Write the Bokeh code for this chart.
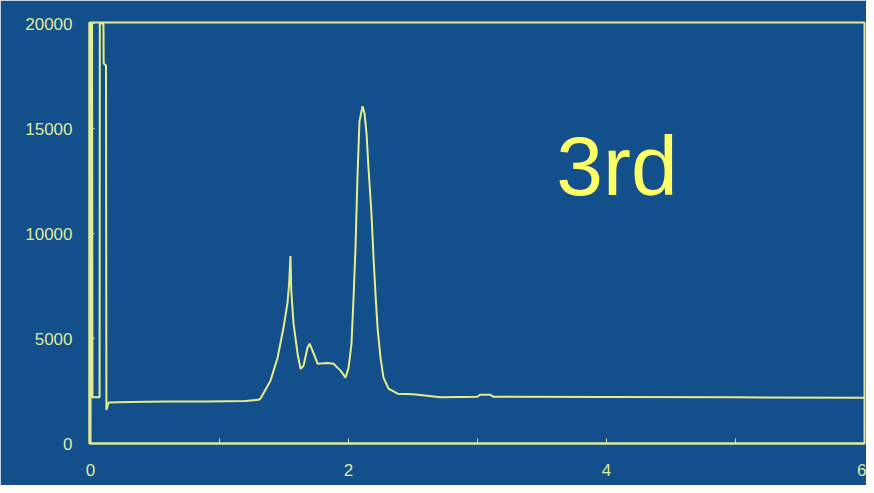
from bokeh.plotting import figure
from bokeh.models import Range1d, FixedTicker, Label
from bokeh.embed import file_html
from bokeh.resources import INLINE

# ---- data ----
time = [0.000, 0.003, 0.012, 0.015, 0.070, 0.072, 0.100, 0.102, 0.120, 0.123, 0.140,
        0.30, 0.60, 0.90, 1.20, 1.30,
        1.318, 1.395, 1.450, 1.496, 1.527, 1.540, 1.550, 1.556, 1.574, 1.605, 1.628,
        1.651, 1.682, 1.698, 1.721, 1.760, 1.837, 1.884, 1.938, 1.977, 2.000, 2.023,
        2.039, 2.054, 2.070, 2.085, 2.109, 2.124, 2.140, 2.155, 2.178, 2.194, 2.209,
        2.225, 2.248, 2.271, 2.310, 2.380, 2.504, 2.713, 3.00, 3.02, 3.10, 3.12,
        4.00, 5.00, 5.95, 6.02]
signal = [0, 20000, 20000, 2200, 2200, 20000, 20000, 18100, 18000, 1600, 1950,
          1980, 2000, 2000, 2020, 2080,
          2140, 2990, 4085, 5510, 6700, 7650, 8930, 7300, 5700, 4275, 3560,
          3700, 4560, 4750, 4420, 3800, 3830, 3800, 3470, 3135, 3600, 4750,
          6940, 9310, 12830, 15340, 16060, 15720, 14730, 13110, 10930, 8840, 7130,
          5510, 4085, 3135, 2610, 2375, 2340, 2200, 2230, 2320, 2320, 2230,
          2220, 2200, 2180, 2180]

x_ticks = [0, 1, 2, 3, 4, 5, 6]
x_tick_labels = {1: "", 3: "", 5: ""}
y_ticks = [0, 5000, 10000, 15000, 20000]
annotation = "3rd"

BG = "#134f8a"
PALE = "#dfe9a0"
TRACE = "#e6ee8a"

p = figure(width=866, height=485, output_backend="svg", toolbar_location=None,
           x_range=Range1d(-0.008, 6.0), y_range=Range1d(0, 20050),
           min_border_left=89, min_border_right=2, min_border_top=22, min_border_bottom=42)

p.background_fill_color = BG
p.border_fill_color = BG
p.outline_line_color = PALE
p.outline_line_width = 2
p.grid.visible = False

for ax in (p.xaxis[0], p.yaxis[0]):
    ax.axis_line_color = PALE
    ax.axis_line_width = 2
    ax.major_tick_line_color = PALE
    ax.major_tick_line_width = 1
    ax.major_tick_in = 5
    ax.major_tick_out = 0
    ax.minor_tick_line_color = None
    ax.major_label_text_color = PALE
    ax.major_label_text_font = "Liberation Sans"
    ax.major_label_text_font_size = "17px"

p.xaxis.ticker = FixedTicker(ticks=x_ticks)
p.xaxis.major_label_overrides = x_tick_labels
p.xaxis.major_label_standoff = 20
p.yaxis.ticker = FixedTicker(ticks=y_ticks)
p.yaxis.major_label_standoff = 17

p.line(time, signal, line_color=TRACE, line_width=2)

p.add_layout(Label(x=3.61, y=13210, text=annotation, text_color="#ffff66",
                   text_font="Liberation Sans", text_font_size="84px",
                   text_baseline="alphabetic"))

open("out.html", "w").write(file_html(p, INLINE))
